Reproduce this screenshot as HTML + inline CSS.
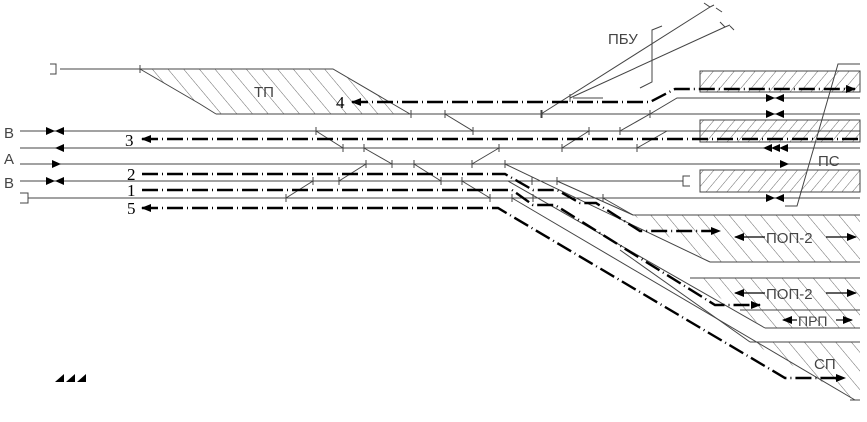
<!DOCTYPE html>
<html><head><meta charset="utf-8"><style>
html,body{margin:0;padding:0;background:#fff;}
svg{display:block;}
text{font-family:"Liberation Sans",sans-serif;fill:#444;}
.n{font-family:"Liberation Serif",serif;font-size:17px;fill:#000;}
</style></head><body>
<svg width="867" height="422" viewBox="0 0 867 422" xmlns="http://www.w3.org/2000/svg">
<defs>
<pattern id="hb" width="12" height="12" patternUnits="userSpaceOnUse" patternTransform="rotate(-40)"><line x1="0" y1="0" x2="0" y2="12" stroke="#444" stroke-width="0.8"/></pattern>
<pattern id="hf" width="8" height="8" patternUnits="userSpaceOnUse" patternTransform="rotate(40)"><line x1="0" y1="0" x2="0" y2="8" stroke="#444" stroke-width="0.8"/></pattern>
<marker id="ar" markerWidth="10" markerHeight="8" refX="9" refY="4" orient="auto" markerUnits="userSpaceOnUse"><path d="M0,0L10,4L0,8z" fill="#000"/></marker>
<marker id="al" markerWidth="10" markerHeight="8" refX="1" refY="4" orient="auto" markerUnits="userSpaceOnUse"><path d="M10,0L0,4L10,8z" fill="#000"/></marker>
</defs>
<g stroke="#444" stroke-width="1" fill="none">
<polygon points="140,69 333,69 410,114 216,114 200,104" fill="url(#hb)" stroke="none"/>
<polyline points="60,69 333,69 410,114"/>
<polyline points="140,69 200,104 216,114"/>
<path d="M50,64h6v10h-6"/>
<rect x="700" y="71" width="160" height="21" fill="url(#hf)"/>
<rect x="700" y="120" width="160" height="22" fill="url(#hf)"/>
<rect x="700" y="170" width="160" height="22" fill="url(#hf)"/>
<polygon points="633,215 860,215 860,262 710,262" fill="url(#hb)" stroke="none"/>
<polyline points="633,215 860,215"/><polyline points="710,262 860,262"/>
<polygon points="690,278 860,278 860,328 765,328" fill="url(#hb)" stroke="none"/>
<polyline points="690,278 860,278"/><polyline points="740,310 860,310"/><polyline points="765,328 860,328"/>
<polygon points="750,342 860,342 860,400 855,400" fill="url(#hb)" stroke="none"/>
<polyline points="750,342 860,342"/><polyline points="850,400 860,400"/>
<line x1="216" y1="114" x2="860" y2="114"/>
<polyline points="650,114 677,98 860,98"/>
<line x1="20" y1="131" x2="860" y2="131"/>
<line x1="20" y1="148" x2="860" y2="148"/>
<line x1="20" y1="164" x2="860" y2="164"/>
<line x1="20" y1="181" x2="683" y2="181"/>
<path d="M690,176h-7v10h7"/>
<line x1="28" y1="198" x2="860" y2="198"/>
<path d="M20,193h8v10h-8"/>
<line x1="541" y1="114" x2="710" y2="7"/>
<polyline points="573,98 603,98"/>
<line x1="570" y1="98" x2="725" y2="27"/>
<path d="M704,3l6,4l4,-2M716,8l6,4"/>
<path d="M720,22l5,5l5,-2M730,26l4,4"/>
<path d="M640,88l12,-6v-52l10,-4"/>
<polyline points="860,64 838,64 797,206 785,206"/>
<line x1="445" y1="114" x2="473" y2="131"/>
<line x1="316" y1="131" x2="343" y2="148"/>
<line x1="364" y1="148" x2="392" y2="164"/>
<line x1="414" y1="164" x2="441" y2="181"/>
<line x1="472" y1="164" x2="499" y2="148"/>
<line x1="562" y1="148" x2="589" y2="131"/>
<line x1="620" y1="131" x2="650" y2="114"/>
<line x1="637" y1="148" x2="667" y2="131"/>
<line x1="286" y1="198" x2="313" y2="181"/>
<line x1="339" y1="181" x2="366" y2="164"/>
<line x1="462" y1="181" x2="490" y2="198"/>
<line x1="505" y1="164" x2="710" y2="262"/>
<line x1="557" y1="181" x2="633" y2="215"/>
<line x1="603" y1="198" x2="633" y2="215"/>
<line x1="508" y1="181" x2="765" y2="328"/>
<line x1="512" y1="198" x2="855" y2="400"/>
<line x1="620" y1="250" x2="750" y2="342"/>
</g>
<g stroke="#444" stroke-width="1">
<path d="M140,65v8M411,110v8M445,110v8M473,127v8M542,110v8M316,127v8M343,144v8M364,144v8M392,160v8M414,160v8M441,177v8M472,160v8M499,144v8M562,144v8M589,127v8M620,127v8M650,110v8M637,144v8M286,194v8M313,177v8M339,177v8M366,160v8M462,177v8M490,194v8M505,160v8M532,177v8M557,177v8M512,194v8M533,194v8M603,194v8M570,94v8M541,110v8"/>
</g>
<g fill="none" stroke="#000" stroke-width="2.4" stroke-dasharray="16,4,1,4">
<polyline points="352,102 650,102 675,89 855,89" marker-start="url(#al)" marker-end="url(#ar)"/>
<polyline points="142,139 860,139" marker-start="url(#al)"/>
<polyline points="142,174 505,174 533,190 557,190 580,203 596,203 640,231 720,231" marker-end="url(#ar)"/>
<polyline points="142,190 512,190 533,205 555,205 715,305 760,305" marker-end="url(#ar)"/>
<polyline points="142,208 498,208 785,378 845,378" marker-start="url(#al)" marker-end="url(#ar)"/>
</g>
<g fill="#000">
<path d="M46,127l9,4l-9,4zM64,127l-9,4l9,4z"/>
<path d="M64,144l-9,4l9,4z"/>
<path d="M52,160l9,4l-9,4z"/>
<path d="M46,177l9,4l-9,4zM64,177l-9,4l9,4z"/>
<path d="M766,94l9,4l-9,4zM784,94l-9,4l9,4z"/>
<path d="M766,110l9,4l-9,4zM784,110l-9,4l9,4z"/>
<path d="M772,144l-9,4l9,4zM780,144l-9,4l9,4zM788,144l-9,4l9,4z"/>
<path d="M780,160l9,4l-9,4z"/>
<path d="M766,194l9,4l-9,4zM784,194l-9,4l9,4z"/>
<path d="M55,422l9,-8v8zM66,422l9,-8v8zM77,422l9,-8v8z" transform="translate(0,-40)"/>
</g>
<g stroke="#000" stroke-width="1.2" fill="none">
<line x1="735" y1="237" x2="765" y2="237" marker-start="url(#al)"/>
<line x1="826" y1="237" x2="856" y2="237" marker-end="url(#ar)"/>
<line x1="735" y1="293" x2="765" y2="293" marker-start="url(#al)"/>
<line x1="826" y1="293" x2="856" y2="293" marker-end="url(#ar)"/>
<line x1="783" y1="320" x2="797" y2="320" marker-start="url(#al)"/>
<line x1="836" y1="320" x2="852" y2="320" marker-end="url(#ar)"/>
</g>
<text x="254" y="97" font-size="15">ТП</text>
<text x="608" y="44" font-size="15">ПБУ</text>
<text x="818" y="166" font-size="15">ПС</text>
<text x="766" y="243" font-size="15">ПОП-2</text>
<text x="766" y="299" font-size="15">ПОП-2</text>
<text x="798" y="326" font-size="14">ПРП</text>
<text x="814" y="369" font-size="15">СП</text>
<text x="4" y="138" font-size="15">В</text>
<text x="4" y="164" font-size="15">А</text>
<text x="4" y="188" font-size="15">В</text>
<text class="n" x="336" y="108">4</text>
<text class="n" x="125" y="146">3</text>
<text class="n" x="127" y="180">2</text>
<text class="n" x="127" y="196">1</text>
<text class="n" x="127" y="214">5</text>
</svg>
</body></html>
